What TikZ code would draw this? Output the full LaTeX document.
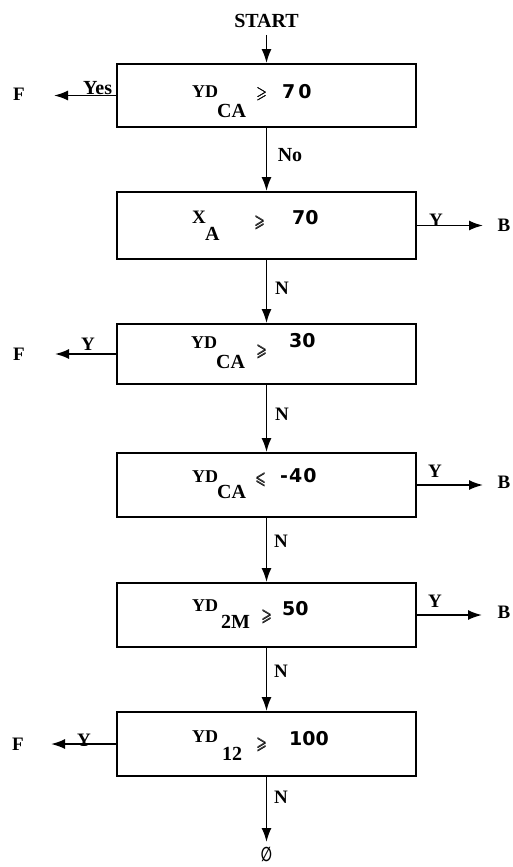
\documentclass[tikz,border=0pt]{standalone}
\usepackage{amssymb}
\usepackage{fontspec}
\setmainfont{Liberation Serif}
\newfontfamily\digfont{DejaVu Sans}
\newfontfamily\symfont{DejaVu Sans}
\usetikzlibrary{arrows.meta}
\newcommand\fyd{\fontsize{18}{18}\selectfont\bfseries}
\newcommand\fsb{\fontsize{20}{20}\selectfont\bfseries}
\newcommand\fdg{\fontsize{19}{19}\selectfont\digfont\bfseries}
\newcommand\frl{\fontsize{17}{17}\selectfont}
\newcommand\geqb{\scalebox{0.8}[1]{\rlap{$\geqslant$}\rlap{\kern0.6pt$\geqslant$}\raisebox{0.4pt}{\kern0.3pt$\geqslant$}}}
\newcommand\leqb{\scalebox{0.8}[1]{\rlap{$\leqslant$}\rlap{\kern0.6pt$\leqslant$}\raisebox{0.4pt}{\kern0.3pt$\leqslant$}}}
\begin{document}
\begin{tikzpicture}[x=1pt,y=-1pt,
  box/.style={draw, line width=1.8pt, minimum width=299pt, inner sep=0pt},
  arr/.style={line width=1.8pt, -{Latex[length=14pt,width=10pt]}},
  lbl/.style={inner sep=0pt, font=\fontsize{19}{19}\selectfont\bfseries},
  big/.style={inner sep=0pt, font=\fontsize{20}{20}\selectfont\bfseries},
  pc/.style={inner sep=0pt, anchor=base west}]
\useasboundingbox (0,0) rectangle (512,867);

% boxes
\node[box, minimum height=63pt] (b1) at (266.5,95.5) {};
\node[box, minimum height=67pt] (b2) at (266.5,225.5) {};
\node[box, minimum height=60pt] (b3) at (266.5,354) {};
\node[box, minimum height=64pt] (b4) at (266.5,485) {};
\node[box, minimum height=64pt] (b5) at (266.5,615) {};
\node[box, minimum height=64pt] (b6) at (266.5,744) {};

% box texts
\node[pc] (t1a) at (192,97) {\fyd YD};
\node[pc] (t1b) at (217,117) {\fsb CA};
\node[pc] (t1c) at (256,99) {\frl\geqb};
\node[pc] (t1d) at (282,98) {\fdg 7\kern3pt0};

\node[pc] (t2a) at (192,223) {\fontsize{19}{19}\selectfont\bfseries X};
\node[pc] (t2b) at (205,240) {\fsb A};
\node[pc] (t2c) at (254,227) {\frl\geqb};
\node[pc] (t2d) at (292,224) {\fdg 70};

\node[pc] (t3a) at (191,348) {\fyd YD};
\node[pc] (t3b) at (216,368) {\fsb CA};
\node[pc] (t3c) at (256,356) {\frl\geqb};
\node[pc] (t3d) at (289,347) {\fdg 30};

\node[pc] (t4a) at (192,482) {\fyd YD};
\node[pc] (t4b) at (217,498) {\fsb CA};
\node[pc] (t4c) at (255,484) {\frl\leqb};
\node[pc] (t4d) at (280,482) {\fdg -\kern1pt4\kern1pt0};

\node[pc] (t5a) at (192,611) {\fyd YD};
\node[pc] (t5b) at (221,628) {\fsb 2M};
\node[pc] (t5c) at (261,621) {\frl\geqb};
\node[pc] (t5d) at (282,615) {\fdg 50};

\node[pc] (t6a) at (192,742) {\fyd YD};
\node[pc] (t6b) at (222,760) {\fsb 12};
\node[pc] (t6c) at (256,749) {\frl\geqb};
\node[pc] (t6d) at (289,745) {\fdg 100};

% start and end
\node[big] (start) at (266.5,21) {START};
\node[inner sep=0pt, font=\fontsize{20}{20}\selectfont\symfont\bfseries] (zero) at (266.5,854) {\scalebox{0.65}[1]{∅}};
\coordinate (e6) at (266.5,842);

% outcome letters
\node[lbl] (F1) at (19,94) {F};
\node[lbl] (F3) at (19,354) {F};
\node[lbl] (F6) at (18,744) {F};
\node[lbl] (B2) at (504,225) {B};
\node[lbl] (B4) at (504,482) {B};
\node[lbl] (B5) at (504,612) {B};

% arrow ends
\coordinate (fl1) at (54,95.5);
\coordinate (br2) at (483,225.5);
\coordinate (fl3) at (55,354);
\coordinate (br4) at (483,485);
\coordinate (br5) at (482,615);
\coordinate (fl6) at (51,744);

% connectors
\draw[arr, shorten <=7pt] (start) -- (b1.north);
\draw[arr] (b1.south) -- (b2.north);
\draw[arr] (b2.south) -- (b3.north);
\draw[arr] (b3.south) -- (b4.north);
\draw[arr] (b4.south) -- (b5.north);
\draw[arr] (b5.south) -- (b6.north);
\draw[arr] (b6.south) -- (e6);

\draw[arr] (b1.west) -- (fl1);
\draw[arr] (b2.east) -- (br2);
\draw[arr] (b3.west) -- (fl3);
\draw[arr] (b4.east) -- (br4);
\draw[arr] (b5.east) -- (br5);
\draw[arr] (b6.west) -- (fl6);

% connector labels
\node[pc, font=\fontsize{20}{20}\selectfont\bfseries] (yes) at (83,94) {Yes};
\node[big] (no) at (290,155) {No};
\node[lbl] (n2) at (282,288) {N};
\node[lbl] (n3) at (282,414) {N};
\node[lbl] (n4) at (281,541) {N};
\node[lbl] (n5) at (281,671) {N};
\node[lbl] (n6) at (281,797) {N};
\node[lbl] (y2) at (436,220) {Y};
\node[lbl] (y3) at (88,344) {Y};
\node[lbl] (y4) at (435,471) {Y};
\node[lbl] (y5) at (435,601) {Y};
\node[lbl] (y6) at (84,740) {Y};
\end{tikzpicture}
\end{document}
